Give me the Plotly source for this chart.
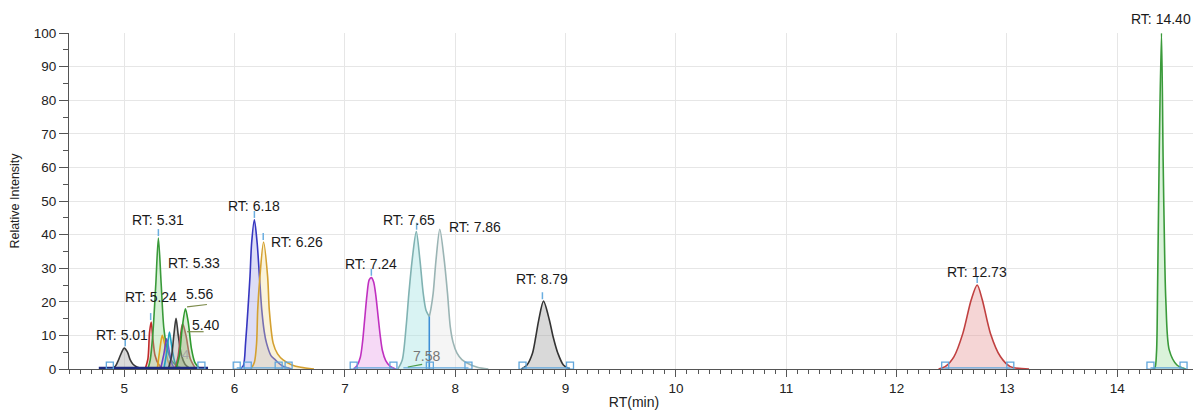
import plotly.graph_objects as go

# ---------------- data ----------------
# each peak: retention time (min) and relative intensity samples
p501_rt = [4.88, 4.92, 4.95, 4.98, 5.00, 5.03, 5.055, 5.08, 5.115, 5.17]
p501_i  = [0.0, 0.8, 2.8, 5.2, 6.2, 5.0, 2.7, 1.4, 0.6, 0.0]

p524_rt = [5.19, 5.215, 5.23, 5.245, 5.26, 5.28, 5.31, 5.35]
p524_i  = [0.0, 3.0, 11.0, 14.0, 9.0, 4.0, 1.5, 0.0]

p531_rt = [5.215, 5.236, 5.26, 5.287, 5.31, 5.335, 5.36, 5.39, 5.43, 5.50, 5.55]
p531_i  = [0.0, 2.7, 10.6, 25.5, 39.0, 25.5, 12.0, 6.0, 2.5, 0.5, 0.0]

p535_rt = [5.30, 5.32, 5.345, 5.37, 5.40, 5.44]
p535_i  = [0.0, 5.0, 10.0, 7.0, 2.0, 0.0]

p538_rt = [5.33, 5.36, 5.385, 5.41, 5.44, 5.47]
p538_i  = [0.0, 4.5, 9.0, 5.0, 1.0, 0.0]

p541_rt = [5.36, 5.39, 5.41, 5.43, 5.46, 5.50]
p541_i  = [0.0, 6.0, 11.0, 7.0, 2.0, 0.0]

p547_rt = [5.40, 5.43, 5.45, 5.47, 5.49, 5.52, 5.55, 5.60]
p547_i  = [0.0, 4.0, 10.0, 15.1, 10.0, 4.0, 1.5, 0.0]

p553_rt = [5.46, 5.49, 5.51, 5.53, 5.56, 5.60, 5.65]
p553_i  = [0.0, 4.0, 10.0, 13.5, 10.0, 3.0, 0.0]

p556_rt = [5.47, 5.50, 5.525, 5.555, 5.58, 5.61, 5.64, 5.69]
p556_i  = [0.0, 4.0, 12.0, 17.9, 14.0, 6.0, 2.0, 0.0]

p618_rt = [6.05, 6.08, 6.10, 6.12, 6.14, 6.155, 6.18, 6.205, 6.226, 6.247, 6.27, 6.29, 6.33, 6.37, 6.43, 6.52]
p618_i  = [0.0, 1.0, 7.7, 17.0, 27.5, 37.5, 44.4, 37.5, 27.5, 17.6, 11.0, 7.7, 4.0, 2.7, 1.0, 0.0]

p626_rt = [6.15, 6.18, 6.20, 6.21, 6.23, 6.263, 6.30, 6.315, 6.35, 6.39, 6.44, 6.52, 6.60, 6.72]
p626_i  = [0.0, 2.0, 7.7, 17.6, 27.5, 37.8, 27.5, 17.6, 7.7, 4.5, 2.7, 1.2, 0.5, 0.0]

p724_rt = [7.08, 7.11, 7.14, 7.16, 7.18, 7.20, 7.22, 7.24, 7.26, 7.28, 7.30, 7.32, 7.34, 7.37, 7.41, 7.46]
p724_i  = [0.0, 1.0, 3.5, 8.0, 15.0, 22.0, 26.5, 27.2, 26.0, 22.0, 16.0, 10.0, 5.5, 2.5, 0.8, 0.0]

# doublet 7.65 / 7.86 (split at the valley)
p765_rt = [7.48, 7.52, 7.555, 7.58, 7.61, 7.647, 7.68, 7.71, 7.735, 7.765]
p765_i  = [0.0, 2.7, 12.6, 22.5, 32.5, 40.9, 32.5, 22.5, 17.5, 15.6]
p786_rt = [7.765, 7.78, 7.80, 7.826, 7.86, 7.90, 7.93, 7.955, 7.98, 8.016, 8.06, 8.107, 8.20, 8.30]
p786_i  = [15.6, 18.0, 22.5, 32.5, 41.6, 32.5, 22.5, 12.6, 8.0, 4.7, 2.8, 1.8, 0.5, 0.0]

p879_rt = [8.60, 8.65, 8.70, 8.73, 8.757, 8.80, 8.853, 8.887, 8.93, 8.98, 9.04]
p879_i  = [0.0, 1.2, 4.7, 9.6, 14.6, 20.2, 14.6, 9.6, 4.7, 1.2, 0.0]

p1273_rt = [12.38, 12.44, 12.52, 12.60, 12.676, 12.73, 12.776, 12.85, 12.94, 13.03, 13.20]
p1273_i  = [0.0, 0.7, 3.7, 10.6, 20.6, 25.0, 20.6, 10.6, 3.7, 0.7, 0.0]

p1440_rt = [14.32, 14.34, 14.355, 14.365, 14.38, 14.40, 14.415, 14.43, 14.44, 14.47, 14.54, 14.62]
p1440_i  = [0.0, 0.3, 5.0, 25.0, 65.0, 100.0, 62.0, 32.0, 20.0, 5.7, 1.2, 0.0]

# peak labels
label_text = ["RT: 5.01", "RT: 5.24", "RT: 5.31", "RT: 5.33", "5.56", "5.40", "RT: 6.18", "RT: 6.26",
              "RT: 7.24", "RT: 7.65", "RT: 7.86", "7.58", "RT: 8.79", "RT: 12.73", "RT: 14.40"]
label_rt = [5.01, 5.24, 5.31, 5.33, 5.56, 5.40, 6.18, 6.26, 7.24, 7.65, 7.86, 7.58, 8.79, 12.73, 14.40]
label_i  = [6.2, 14.0, 39.0, 32.0, 17.9, 11.0, 44.4, 37.8, 27.2, 40.9, 41.6, 0.5, 20.2, 25.0, 100.0]

# integration boundary boxes (RT)
box_rt = [4.87, 5.70, 6.02, 6.12, 6.40, 6.49, 7.08, 7.44, 7.77, 8.12, 8.61, 9.04, 12.44, 13.03, 14.30, 14.60]

x_ticks = [5, 6, 7, 8, 9, 10, 11, 12, 13, 14]
y_ticks = [0, 10, 20, 30, 40, 50, 60, 70, 80, 90, 100]

# ---------------- styles ----------------
FONT = "Liberation Sans, Arial, sans-serif"
peaks = [
    (p501_rt, p501_i, "#3a3a3a", "rgba(150,150,150,0.35)"),
    (p524_rt, p524_i, "#c02a2a", "rgba(230,140,140,0.30)"),
    (p531_rt, p531_i, "#3a9a3a", "rgba(140,215,140,0.35)"),
    (p535_rt, p535_i, "#e0a020", "rgba(240,210,120,0.25)"),
    (p538_rt, p538_i, "#6a40c8", "rgba(160,140,230,0.25)"),
    (p541_rt, p541_i, "#20a0c0", "rgba(120,200,220,0.25)"),
    (p547_rt, p547_i, "#3a3a3a", "rgba(150,150,150,0.35)"),
    (p553_rt, p553_i, "#b05050", "rgba(160,150,110,0.35)"),
    (p556_rt, p556_i, "#2f9a2f", "rgba(140,200,130,0.30)"),
    (p618_rt, p618_i, "#3636c0", "rgba(120,120,220,0.25)"),
    (p626_rt, p626_i, "#d4a030", "rgba(240,220,150,0.35)"),
    (p724_rt, p724_i, "#c030c0", "rgba(225,130,225,0.30)"),
    (p879_rt, p879_i, "#333333", "rgba(160,160,160,0.40)"),
    (p1273_rt, p1273_i, "#c04040", "rgba(230,150,150,0.40)"),
    (p1440_rt, p1440_i, "#3a9a3a", "rgba(150,220,150,0.35)"),
]

fig = go.Figure()

for rt, it, lc, fc in peaks:
    fig.add_trace(go.Scatter(x=rt, y=it, mode="lines", fill="tozeroy", fillcolor=fc,
                             line=dict(color=lc, width=1.6, shape="spline", smoothing=0.8),
                             hoverinfo="skip", showlegend=False))

# doublet: two fills + common outline
fig.add_trace(go.Scatter(x=p765_rt, y=p765_i, mode="lines", fill="tozeroy",
                         fillcolor="rgba(170,228,228,0.45)",
                         line=dict(color="#80b2b2", width=1.6, shape="spline", smoothing=0.8),
                         showlegend=False, hoverinfo="skip"))
fig.add_trace(go.Scatter(x=p786_rt, y=p786_i, mode="lines", fill="tozeroy",
                         fillcolor="rgba(232,232,232,0.45)",
                         line=dict(color="#9ab4b4", width=1.6, shape="spline", smoothing=0.8),
                         showlegend=False, hoverinfo="skip"))
# split line at the valley
fig.add_trace(go.Scatter(x=[p765_rt[-1], p765_rt[-1]], y=[0, p765_i[-1]], mode="lines",
                         line=dict(color="#3d8fd6", width=1.6), showlegend=False, hoverinfo="skip"))

# integration baselines
for a, b in [(6.02, 6.49), (7.08, 7.44), (7.53, 7.77), (7.77, 8.12), (8.61, 9.04), (12.44, 13.03), (14.30, 14.60)]:
    fig.add_trace(go.Scatter(x=[a, b], y=[0.35, 0.35], mode="lines",
                             line=dict(color="#5fa6dc", width=1.2), showlegend=False, hoverinfo="skip"))
# dense baseline of the early cluster
fig.add_trace(go.Scatter(x=[4.77, 5.76], y=[0.25, 0.25], mode="lines",
                         line=dict(color="#1c2a80", width=3), showlegend=False, hoverinfo="skip"))

# boundary boxes
fig.add_trace(go.Scatter(x=box_rt, y=[1.0] * len(box_rt), mode="markers",
                         marker=dict(symbol="square-open", size=7, color="#5fa6dc", line=dict(width=1.3)),
                         showlegend=False, hoverinfo="skip"))

# apex marks
apex_rt = [5.01, 5.24, 5.31, 6.18, 6.26, 7.24, 7.65, 8.79, 12.73, 14.40]
apex_i = [6.2, 14.0, 39.0, 44.4, 37.8, 27.2, 40.9, 20.2, 25.0, 100.0]
fig.add_trace(go.Scatter(x=apex_rt, y=[v + 1.6 for v in apex_i], mode="markers",
                         marker=dict(symbol="line-ns-open", size=5, color="#6aaee0", line=dict(width=1.5)),
                         showlegend=False, hoverinfo="skip", cliponaxis=False))

# labels
# (xanchor, yanchor, xshift, yshift) per label
label_pos = [
    ("center", "bottom", -3, 3), ("center", "bottom", 0, 15), ("center", "bottom", 0, 8),
    ("left", "middle", 5, -2), ("left", "middle", -2, 15), ("left", "middle", 22, 7),
    ("center", "bottom", 0, 4), ("left", "middle", 6, 0), ("center", "bottom", 0, 4),
    ("center", "bottom", -8, 2), ("left", "middle", 7, 2), ("left", "middle", 2, 11),
    ("center", "bottom", 0, 12), ("center", "bottom", 0, 3), ("center", "bottom", 0, 4),
]
for t, x, y, (xa, ya, xs, ys) in zip(label_text, label_rt, label_i, label_pos):
    col = "#777777" if t == "7.58" else "#1a1a1a"
    fig.add_annotation(x=x, y=y, text=t, showarrow=False, xanchor=xa, yanchor=ya,
                       xshift=xs, yshift=ys, font=dict(family=FONT, size=14, color=col))
# faint overlapped label in the cluster
fig.add_annotation(x=5.56, y=4.2, text="4", showarrow=False, font=dict(family=FONT, size=13, color="#a8a8a8"))
# small leader lines under the cluster labels
fig.add_trace(go.Scatter(x=[5.57, 5.75], y=[18.5, 19.2], mode="lines", line=dict(color="#7c8a4a", width=1.2),
                         showlegend=False, hoverinfo="skip"))
fig.add_trace(go.Scatter(x=[5.57, 5.72], y=[11.1, 11.1], mode="lines", line=dict(color="#7c8a4a", width=1.2),
                         showlegend=False, hoverinfo="skip"))
fig.add_trace(go.Scatter(x=[7.57, 7.70], y=[0.6, 1.4], mode="lines", line=dict(color="#4a9a4a", width=1.2),
                         showlegend=False, hoverinfo="skip"))

# the page body adds an 8 px margin, so the figure is sized to fill the rest of the window
fig.update_layout(
    width=1193, height=406,
    margin=dict(l=61, r=2, t=25, b=45),
    paper_bgcolor="white", plot_bgcolor="white",
    font=dict(family=FONT, color="#222222"),
    xaxis=dict(range=[4.5, 14.74], tickvals=x_ticks, ticktext=[str(v) for v in x_ticks],
               automargin=False,
               showline=True, linecolor="#555555", linewidth=1.2, ticks="outside", ticklen=7,
               tickcolor="#555555", tickfont=dict(size=13.5, color="#222222"), ticklabelstandoff=0,
               showgrid=True, gridcolor="#e6e6e6", gridwidth=1, zeroline=False,
               minor=dict(dtick=0.1, ticks="outside", ticklen=3.5, tickcolor="#555555", showgrid=False),
               title=dict(text="RT(min)", font=dict(size=14, color="#222222"), standoff=1)),
    yaxis=dict(range=[0, 100], tickvals=y_ticks, ticktext=[str(v) for v in y_ticks],
               automargin=False,
               showline=True, linecolor="#555555", linewidth=1.2, ticks="outside", ticklen=9,
               tickcolor="#555555", tickfont=dict(size=13.5, color="#222222"),
               showgrid=True, gridcolor="#e6e6e6", gridwidth=1, zeroline=False,
               minor=dict(dtick=5, ticks="outside", ticklen=5, tickcolor="#555555", showgrid=False),
               title=dict(text="Relative Intensity", font=dict(size=12.5, color="#222222"), standoff=11)),
)

fig.write_html("out.html")
